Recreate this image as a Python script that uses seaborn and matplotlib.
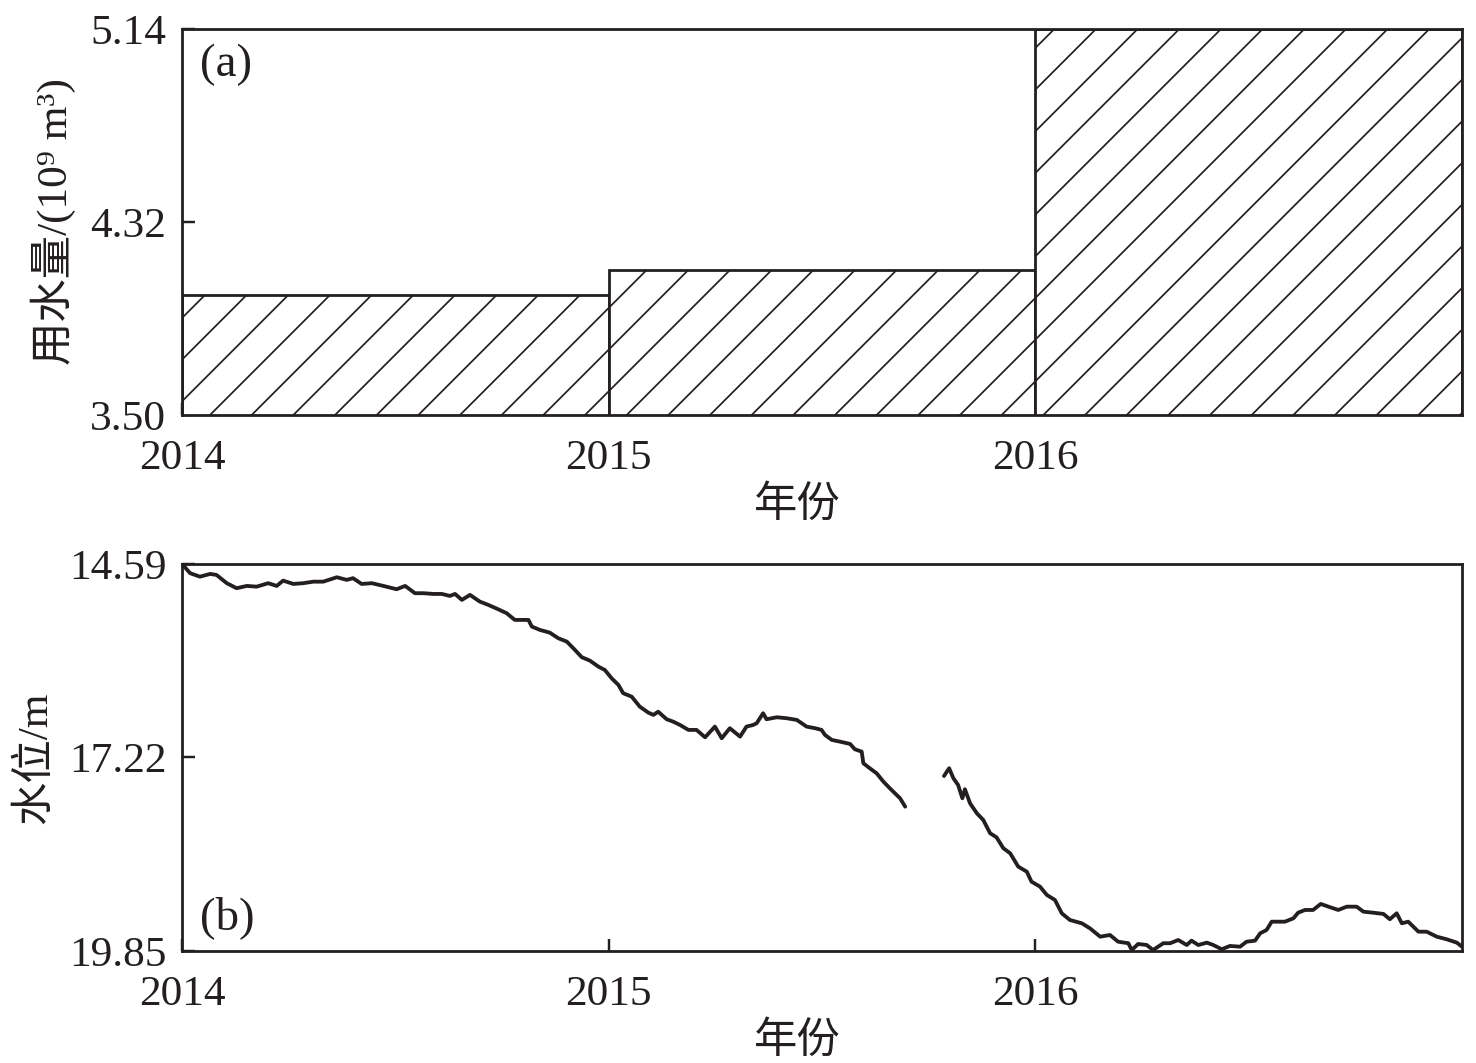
import numpy as np
import pandas as pd
import matplotlib
matplotlib.use("Agg")
import matplotlib.pyplot as plt
import seaborn as sns

# ---------------- data ----------------
use_years = [2014, 2015, 2016]
use_values = [4.01, 4.115, 5.14]          # 10^9 m^3
use_yticks = [3.50, 4.32, 5.14]

seg1_year = [2014.000, 2014.019, 2014.042, 2014.066, 2014.081, 2014.105, 2014.128, 2014.152, 2014.175, 2014.202,
             2014.222, 2014.237, 2014.261, 2014.284, 2014.308, 2014.331, 2014.363, 2014.386, 2014.401, 2014.421,
             2014.445, 2014.472, 2014.503, 2014.523, 2014.546, 2014.566, 2014.589, 2014.609, 2014.628, 2014.640,
             2014.656, 2014.675, 2014.698, 2014.718, 2014.741, 2014.761, 2014.780, 2014.812, 2014.820, 2014.839,
             2014.862, 2014.882, 2014.902, 2014.921, 2014.937, 2014.956, 2014.976, 2014.991, 2015.007, 2015.023,
             2015.034, 2015.054, 2015.073, 2015.093, 2015.105, 2015.116, 2015.136, 2015.151, 2015.167, 2015.187,
             2015.206, 2015.226, 2015.249, 2015.265, 2015.284, 2015.308, 2015.323, 2015.339, 2015.347, 2015.362,
             2015.370, 2015.394, 2015.417, 2015.441, 2015.464, 2015.484, 2015.499, 2015.507, 2015.523, 2015.542,
             2015.566, 2015.577, 2015.593, 2015.597, 2015.612, 2015.628, 2015.644, 2015.659, 2015.675, 2015.683, 2015.695]
seg1_level = [14.590, 14.716, 14.763, 14.726, 14.740, 14.852, 14.920, 14.889, 14.899, 14.852,
              14.889, 14.817, 14.862, 14.852, 14.831, 14.831, 14.771, 14.807, 14.784, 14.862,
              14.852, 14.889, 14.934, 14.889, 14.988, 14.988, 14.998, 14.998, 15.025, 14.998,
              15.079, 15.011, 15.102, 15.147, 15.206, 15.260, 15.351, 15.351, 15.442, 15.487,
              15.524, 15.600, 15.646, 15.759, 15.858, 15.904, 15.986, 16.031, 16.144, 16.235,
              16.347, 16.394, 16.530, 16.611, 16.642, 16.598, 16.701, 16.733, 16.778, 16.846,
              16.846, 16.946, 16.801, 16.959, 16.823, 16.937, 16.801, 16.778, 16.755, 16.619,
              16.701, 16.674, 16.687, 16.710, 16.801, 16.823, 16.846, 16.914, 16.982, 17.005,
              17.037, 17.109, 17.141, 17.299, 17.367, 17.435, 17.549, 17.639, 17.730, 17.775, 17.889]

seg2_year = [2015.786, 2015.798, 2015.808, 2015.819, 2015.829, 2015.835, 2015.847, 2015.863, 2015.878, 2015.894,
             2015.909, 2015.925, 2015.941, 2015.960, 2015.980, 2015.991, 2016.011, 2016.027, 2016.046, 2016.062,
             2016.081, 2016.109, 2016.128, 2016.152, 2016.175, 2016.194, 2016.218, 2016.226, 2016.241, 2016.261,
             2016.276, 2016.300, 2016.316, 2016.335, 2016.355, 2016.366, 2016.382, 2016.402, 2016.417, 2016.437,
             2016.456, 2016.480, 2016.495, 2016.515, 2016.527, 2016.542, 2016.554, 2016.566, 2016.585, 2016.605,
             2016.616, 2016.632, 2016.651, 2016.669, 2016.691, 2016.710, 2016.730, 2016.753, 2016.769, 2016.792,
             2016.816, 2016.831, 2016.847, 2016.859, 2016.874, 2016.898, 2016.917, 2016.941, 2016.964, 2016.988,
             2017.000]
seg2_level = [17.472, 17.367, 17.503, 17.594, 17.775, 17.652, 17.843, 17.979, 18.070, 18.250,
              18.305, 18.454, 18.522, 18.704, 18.772, 18.908, 18.976, 19.089, 19.157, 19.338,
              19.429, 19.474, 19.542, 19.656, 19.633, 19.724, 19.745, 19.837, 19.755, 19.769,
              19.837, 19.745, 19.745, 19.701, 19.769, 19.710, 19.769, 19.737, 19.769, 19.827,
              19.782, 19.792, 19.724, 19.710, 19.610, 19.565, 19.452, 19.452, 19.452, 19.406,
              19.330, 19.293, 19.293, 19.211, 19.256, 19.293, 19.248, 19.248, 19.316, 19.330,
              19.347, 19.419, 19.338, 19.474, 19.452, 19.588, 19.588, 19.656, 19.691, 19.737,
              19.792]
level_yticks = [14.59, 17.22, 19.85]
x_ticks = [2014, 2015, 2016]

# ---------------- style ----------------
INK = "#231f20"
sns.set_theme(style="white")
plt.rcParams["font.family"] = ["Liberation Serif", "Noto Sans CJK SC"]
plt.rcParams.update({
    "axes.edgecolor": INK,
    "axes.linewidth": 0.8,
    "xtick.direction": "in",
    "ytick.direction": "in",
    "xtick.major.size": 3.6,
    "ytick.major.size": 3.6,
    "xtick.major.width": 0.7,
    "ytick.major.width": 0.7,
    "xtick.color": INK,
    "ytick.color": INK,
    "hatch.linewidth": 0.5,
    "hatch.color": INK,
})
FS = 12.5
FAM = ["Liberation Serif", "Noto Sans CJK SC"]

DPI = 250
fig = plt.figure(figsize=(1476 / DPI, 1063 / DPI), dpi=DPI)
fig.patch.set_facecolor("white")
ax1 = fig.add_axes([0.1233, 0.6096, 0.8672, 0.3631])
ax2 = fig.add_axes([0.1233, 0.1054, 0.8672, 0.3641])

# ---- (a) water use bars ----
ax1.bar(use_years, use_values, width=1.0, align="edge", facecolor="white",
        edgecolor=INK, linewidth=0.8, hatch="//")
ax1.set_xlim(2014, 2017)
ax1.set_ylim(use_yticks[0], use_yticks[-1])
ax1.set_yticks(use_yticks)
ax1.set_yticklabels([f"{v:.2f}" for v in use_yticks])
ax1.set_xticks(x_ticks)
ax1.set_xticklabels([str(v) for v in x_ticks])
ax1.set_xlabel("年份", fontsize=FS, family=FAM, color=INK, labelpad=2.5)
ax1.set_ylabel("用水量/(10⁹ m³)", fontsize=FS, family=FAM, color=INK, labelpad=4)
ax1.text(0.014, 0.907, "(a)", transform=ax1.transAxes, fontsize=13.5, family=FAM,
         color=INK, va="center", ha="left")

# ---- (b) water level line ----
df = pd.concat([
    pd.DataFrame({"year": seg1_year, "level": seg1_level, "segment": 1}),
    pd.DataFrame({"year": seg2_year, "level": seg2_level, "segment": 2}),
], ignore_index=True)
sns.lineplot(data=df, x="year", y="level", units="segment", estimator=None,
             color=INK, linewidth=1.1, legend=False, ax=ax2)
ax2.set_xlim(2014, 2017)
ax2.set_ylim(level_yticks[-1], level_yticks[0])
ax2.set_yticks(level_yticks)
ax2.set_yticklabels([f"{v:.2f}" for v in level_yticks])
ax2.set_xticks(x_ticks)
ax2.set_xticklabels([str(v) for v in x_ticks])
ax2.set_xlabel("年份", fontsize=FS, family=FAM, color=INK, labelpad=2.5)
ax2.set_ylabel("水位/m", fontsize=FS, family=FAM, color=INK, labelpad=4)
ax2.text(0.014, 0.085, "(b)", transform=ax2.transAxes, fontsize=13.5, family=FAM,
         color=INK, va="center", ha="left")

for ax in (ax1, ax2):
    ax.tick_params(axis="both", labelsize=FS, colors=INK,
                   top=False, right=False, left=True, bottom=True)
    ax.tick_params(axis="y", pad=4.5)
    ax.tick_params(axis="x", pad=7.0)
    for lab in ax.get_xticklabels() + ax.get_yticklabels():
        lab.set_family(FAM)
        lab.set_color(INK)
    for sp in ax.spines.values():
        sp.set_visible(True)
        sp.set_color(INK)
        sp.set_linewidth(0.8)
    ax.grid(False)
    ax.set_facecolor("white")
    ax.xaxis.label.set_x(0.4805)

fig.savefig("out.png", dpi=DPI, facecolor="white")
